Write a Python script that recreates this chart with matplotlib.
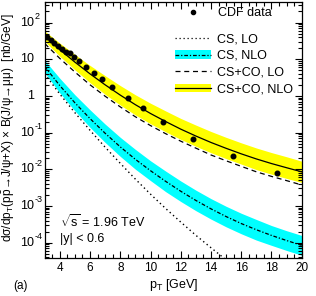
import matplotlib
matplotlib.use("Agg")
import matplotlib.pyplot as plt
from matplotlib.lines import Line2D
from matplotlib.patches import Patch
from matplotlib.ticker import MultipleLocator, LogLocator, NullFormatter
from matplotlib.transforms import blended_transform_factory, offset_copy
import numpy as np

plt.rcParams['font.family'] = ['Liberation Sans', 'DejaVu Sans']
plt.rcParams['mathtext.fontset'] = 'custom'
plt.rcParams['mathtext.rm'] = 'Liberation Sans'
plt.rcParams['mathtext.it'] = 'Liberation Sans:italic'

# ---- data ----
cdf_pt = [3.13, 3.40, 3.63, 3.90, 4.14, 4.41, 4.65, 4.92, 5.27, 5.75, 6.28, 6.77,
          7.47, 8.49, 9.48, 10.80, 12.79, 15.43, 18.34]
cdf_xs = [39.6, 33.5, 28.2, 23.4, 19.4, 16.1, 15.1, 11.7, 8.8, 6.15, 4.30, 2.84,
          1.79, 0.88, 0.46, 0.195, 0.068, 0.0227, 0.0078]

pt = [3, 4, 5, 6, 7, 8, 9, 10, 11, 12, 13, 14, 15, 16, 17, 18, 19, 20]

csco_nlo = [42.7, 18.2, 8.32, 3.98, 2.00, 1.05, 0.575, 0.331, 0.200, 0.124, 0.0804,
            0.0537, 0.0372, 0.0263, 0.0191, 0.0143, 0.0110, 0.00851]
csco_nlo_hi = [58.9, 27.5, 13.5, 6.76, 3.55, 1.91, 1.07, 0.631, 0.389, 0.243, 0.160,
               0.107, 0.0741, 0.0525, 0.0380, 0.0285, 0.0219, 0.0166]
csco_nlo_lo = [30.9, 12.0, 5.13, 2.29, 1.10, 0.562, 0.302, 0.174, 0.105, 0.0653, 0.0422,
               0.0282, 0.0195, 0.0138, 0.00977, 0.00733, 0.00562, 0.00437]
csco_lo = [26.9, 10.5, 4.47, 2.00, 0.977, 0.501, 0.269, 0.155, 0.0933, 0.0582, 0.0376,
           0.0245, 0.0170, 0.0120, 0.00851, 0.00638, 0.00490, 0.00372]

cs_nlo = [6.31, 1.91, 0.646, 0.240, 0.0955, 0.0407, 0.0186, 0.00912, 0.00468, 0.00251,
          0.00141, 0.000832, 0.000513, 0.000331, 0.000224, 0.000157, 0.000114, 0.0000841]
cs_nlo_hi = [9.33, 3.02, 1.07, 0.417, 0.170, 0.0741, 0.0347, 0.0170, 0.00891, 0.00479,
             0.00269, 0.00158, 0.000977, 0.000631, 0.000427, 0.000292, 0.000211, 0.000157]
cs_nlo_lo = [4.27, 1.20, 0.389, 0.138, 0.0537, 0.0224, 0.0100, 0.00490, 0.00245, 0.00132,
             0.000741, 0.000437, 0.000269, 0.000174, 0.000117, 0.0000841, 0.0000610, 0.0000452]

cs_lo_pt = [3, 4, 5, 6, 7, 8, 9, 10, 11, 12, 13, 14, 15]
cs_lo = [3.98, 1.12, 0.347, 0.115, 0.0398, 0.0145, 0.00537, 0.00209, 0.000851,
         0.000363, 0.000158, 0.0000724, 0.0000339]

y_exponents = [-4, -3, -2, -1, 0, 1, 2]

# ---- figure ----
W, H = 316, 296
fig = plt.figure(figsize=(W / 100, H / 100), dpi=100)
L, R, B, T = 44.7, 301.7, 258.0, 2.0
ax = fig.add_axes([L / W, 1 - B / H, (R - L) / W, (B - T) / H])

YELLOW = '#ffff00'
CYAN = '#00ffff'
lw = 0.9

ax.fill_between(pt, csco_nlo_lo, csco_nlo_hi, color=YELLOW, lw=0, zorder=1)
ax.fill_between(pt, cs_nlo_lo, cs_nlo_hi, color=CYAN, lw=0, zorder=1)
ax.plot(pt, csco_nlo, color='black', lw=lw, zorder=3)
ax.plot(pt, csco_lo, color='black', lw=lw, ls=(0, (4, 3)), zorder=3)
ax.plot(pt, cs_nlo, color='black', lw=lw, ls=(0, (3, 1.5, 1, 1.5)), zorder=3)
ax.plot(cs_lo_pt, cs_lo, color='black', lw=1.0, ls=(0, (1, 2.2)), zorder=3)
ax.plot(cdf_pt, cdf_xs, 'o', color='black', ms=3.3, zorder=4)

ax.set_yscale('log')
ax.set_xlim(3, 20)
ax.set_ylim(10 ** -4.42, 10 ** 2.56)

ax.xaxis.set_major_locator(MultipleLocator(2))
ax.xaxis.set_minor_locator(MultipleLocator(0.5))
ax.yaxis.set_major_locator(LogLocator(base=10, numticks=20))
ax.yaxis.set_minor_locator(LogLocator(base=10, subs=np.arange(2, 10), numticks=20))
ax.yaxis.set_major_formatter(NullFormatter())
ax.yaxis.set_minor_formatter(NullFormatter())
ax.tick_params(which='both', direction='in', top=True, right=True, width=0.8)
ax.tick_params(which='major', length=5)
ax.tick_params(which='minor', length=2.8)
ax.tick_params(axis='x', labelsize=8.5, pad=3)
for s in ax.spines.values():
    s.set_linewidth(0.9)

# y tick labels in ROOT style: base "10" with exponent to the right
tr = blended_transform_factory(ax.transAxes, ax.transData)
for e in y_exponents:
    base = offset_copy(tr, fig=fig, x=-10.5 * 72 / 100, y=0, units='points')
    if e == 0:
        ax.text(0, 10.0 ** e, '1', transform=base, ha='right', va='center', fontsize=9)
    else:
        ax.text(0, 10.0 ** e, '10', transform=base, ha='right', va='center', fontsize=9)
        if e != 1:
            sup = offset_copy(tr, fig=fig, x=-10.0 * 72 / 100, y=6 * 72 / 100, units='points')
            ax.text(0, 10.0 ** e, str(e), transform=sup, ha='left', va='center', fontsize=6.5)

ax.set_xlabel(r'p$_\mathrm{T}$ [GeV]', fontsize=9, labelpad=2)
fig.text(9 / W, 1 - 128 / H,
         'dσ/dp$_\\mathrm{T}$(p$\\bar{\\mathrm{p}}$→J/ψ+X) × B(J/ψ→μμ)  [nb/GeV]',
         rotation=90, ha='center', va='center', fontsize=8.6)
fig.text(20 / W, 1 - 286 / H, '(a)', ha='center', va='center', fontsize=8.5)

ax.text(0.058, 0.142, r'$\sqrt{\mathrm{s}}$ = 1.96 TeV', transform=ax.transAxes,
        ha='left', va='center', fontsize=9)
ax.text(0.058, 0.074, '|y| < 0.6', transform=ax.transAxes,
        ha='left', va='center', fontsize=9)

# legends
h_data = Line2D([], [], marker='o', color='black', ls='none', ms=3.0)
leg1 = ax.legend([h_data], ['CDF data'], loc='upper right', bbox_to_anchor=(0.882, 0.98),
                 frameon=False, fontsize=9, handlelength=2.85, handletextpad=0.55,
                 borderpad=0, borderaxespad=0, numpoints=1)
ax.add_artist(leg1)
h_cslo = Line2D([], [], color='black', lw=lw, ls=(0, (1, 2.2)))
h_csnlo = (Patch(facecolor=CYAN, lw=0), Line2D([], [], color='black', lw=lw, ls=(0, (3, 1.5, 1, 1.5))))
h_cscolo = Line2D([], [], color='black', lw=lw, ls=(0, (4, 3)))
h_csconlo = (Patch(facecolor=YELLOW, lw=0), Line2D([], [], color='black', lw=lw))
ax.legend([h_cslo, h_csnlo, h_cscolo, h_csconlo], ['CS, LO', 'CS, NLO', 'CS+CO, LO', 'CS+CO, NLO'],
          loc='upper right', bbox_to_anchor=(0.968, 0.878), frameon=False, fontsize=9,
          handlelength=2.85, handletextpad=0.55, labelspacing=0.38, borderpad=0, borderaxespad=0)

fig.savefig('out.png', dpi=100)
